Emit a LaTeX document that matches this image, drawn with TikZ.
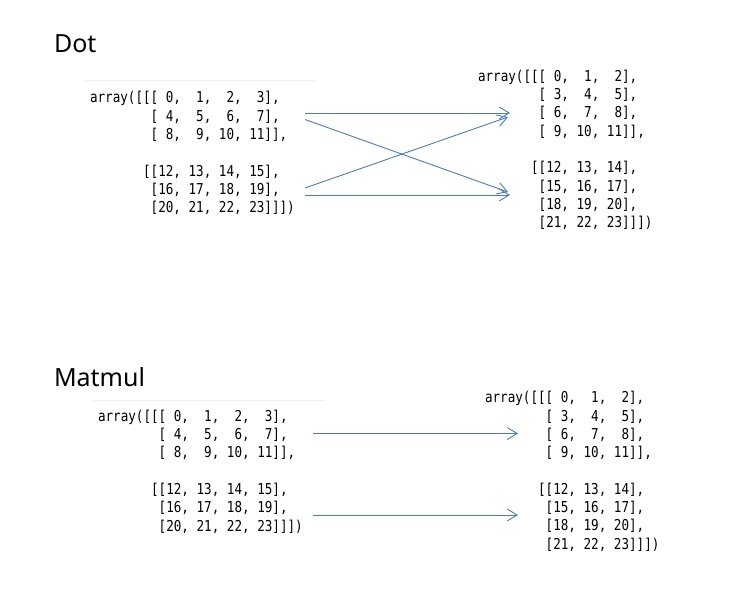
\documentclass[tikz,border=0pt]{standalone}
\usepackage{fontspec}
\newfontfamily\arrfont{DejaVu Sans Mono}[FakeStretch=0.84]
\newfontfamily\titlefont{Noto Sans}
\usetikzlibrary{arrows.meta}
\definecolor{lineblue}{HTML}{4A7EBB}

\begin{document}
\begin{tikzpicture}
    [x=1pt, y=-1pt,
    every node/.style={inner sep=0pt, outer sep=0pt},
    title/.style={anchor=base west, font=\titlefont\fontsize{25}{29}\selectfont},
    array/.style={anchor=north west, align=left, font=\arrfont\fontsize{15}{18.3}\selectfont},
    edge/.style={draw=black!6, line width=1pt},
    link/.style={draw=lineblue, line width=0.9pt, -{Straight Barb[length=10pt,width=12pt]}}
    ]
    \useasboundingbox [fill=white] (0,0) rectangle (745,615);

    \node (dot) [title] at (54,53) {Dot};
    \node (matmul) [title] at (54,386) {Matmul};

    \draw [edge] (85,81) -- (315,81);
    \draw [edge] (93,400) -- (325,400);

    \node (dotA) [array] at (90,91.5) {array([[[~0,~~1,~~2,~~3],\\
        \phantom{array([[}[~4,~~5,~~6,~~7],\\
        \phantom{array([[}[~8,~~9,~10,~11]],\\[18.3pt]
        \phantom{array([}[[12,~13,~14,~15],\\
        \phantom{array([[}[16,~17,~18,~19],\\
        \phantom{array([[}[20,~21,~22,~23]]])};
    \node (dotB) [array] at (478,70) {array([[[~0,~~1,~~2],\\
        \phantom{array([[}[~3,~~4,~~5],\\
        \phantom{array([[}[~6,~~7,~~8],\\
        \phantom{array([[}[~9,~10,~11]],\\[18.3pt]
        \phantom{array([}[[12,~13,~14],\\
        \phantom{array([[}[15,~16,~17],\\
        \phantom{array([[}[18,~19,~20],\\
        \phantom{array([[}[21,~22,~23]]])};

    \node (matA) [array] at (98,410) {array([[[~0,~~1,~~2,~~3],\\
        \phantom{array([[}[~4,~~5,~~6,~~7],\\
        \phantom{array([[}[~8,~~9,~10,~11]],\\[18.3pt]
        \phantom{array([}[[12,~13,~14,~15],\\
        \phantom{array([[}[16,~17,~18,~19],\\
        \phantom{array([[}[20,~21,~22,~23]]])};
    \node (matB) [array] at (485,391.5) {array([[[~0,~~1,~~2],\\
        \phantom{array([[}[~3,~~4,~~5],\\
        \phantom{array([[}[~6,~~7,~~8],\\
        \phantom{array([[}[~9,~10,~11]],\\[18.3pt]
        \phantom{array([}[[12,~13,~14],\\
        \phantom{array([[}[15,~16,~17],\\
        \phantom{array([[}[18,~19,~20],\\
        \phantom{array([[}[21,~22,~23]]])};

    \coordinate (dotA1) at (305,113);
    \coordinate (dotA2) at (305,119.5);
    \coordinate (dotA3) at (305,188);
    \coordinate (dotA4) at (305,195);
    \coordinate (dotB1) at (510,113);
    \coordinate (dotB2) at (508,192);
    \coordinate (dotB3) at (508,117);
    \coordinate (dotB4) at (510,195);
    \coordinate (matA1) at (313,433.5);
    \coordinate (matA2) at (313,515);
    \coordinate (matB1) at (518,433.5);
    \coordinate (matB2) at (518,515);

    \draw [link] (dotA1) -- (dotB1);
    \draw [link] (dotA2) -- (dotB2);
    \draw [link] (dotA3) -- (dotB3);
    \draw [link] (dotA4) -- (dotB4);
    \draw [link] (matA1) -- (matB1);
    \draw [link] (matA2) -- (matB2);
\end{tikzpicture}
\end{document}
